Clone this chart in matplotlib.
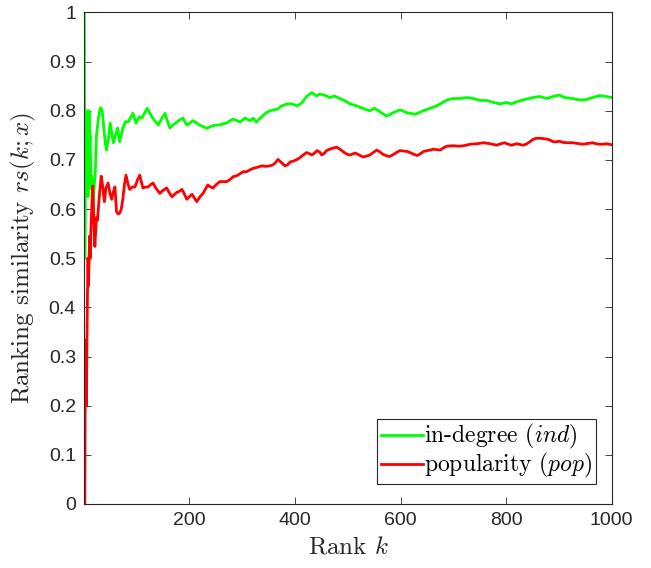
import numpy as np
import matplotlib
matplotlib.use("Agg")
import matplotlib.pyplot as plt

# Values
k_ind = [1, 2, 3, 4, 5, 6, 7, 8, 9, 10, 11, 12, 13, 14, 15, 16, 17, 18, 19, 20,
         22, 24, 26, 28, 30, 32, 35, 38, 41, 43, 47, 50, 53, 56, 60, 64, 68, 74,
         79, 84, 88, 93, 99, 105, 110, 115, 120, 125, 131, 136, 141, 148, 154,
         158, 163, 170, 176, 182, 188, 195, 201, 207, 213, 219, 226, 233, 240,
         246, 252, 258, 264, 271, 277, 283, 290, 296, 305, 315, 321, 327, 334,
         340, 347, 353, 360, 366, 375, 385, 394, 404, 413, 422, 432, 441, 447,
         456, 466, 475, 485, 494, 504, 517, 528, 542, 551, 561, 574, 584, 599,
         612, 628, 643, 656, 668, 675, 688, 700, 713, 726, 738, 751, 763, 776,
         788, 801, 810, 822, 835, 851, 864, 877, 889, 900, 911, 926, 939, 952,
         964, 977, 990, 1000]
rs_ind = [1.0, 0.5, 0.667, 0.75, 0.8, 0.667, 0.714, 0.625, 0.667, 0.8, 0.727,
          0.75, 0.692, 0.643, 0.667, 0.625, 0.588, 0.611, 0.632, 0.65, 0.682,
          0.75, 0.769, 0.786, 0.8, 0.806, 0.8, 0.763, 0.732, 0.72, 0.745, 0.775,
          0.755, 0.735, 0.75, 0.765, 0.737, 0.765, 0.778, 0.777, 0.785, 0.795,
          0.775, 0.788, 0.785, 0.795, 0.805, 0.795, 0.785, 0.778, 0.771, 0.785,
          0.795, 0.78, 0.765, 0.772, 0.777, 0.782, 0.785, 0.771, 0.775, 0.78,
          0.776, 0.771, 0.768, 0.764, 0.768, 0.77, 0.771, 0.771, 0.774, 0.775,
          0.78, 0.783, 0.78, 0.777, 0.785, 0.78, 0.785, 0.777, 0.785, 0.791,
          0.797, 0.80, 0.802, 0.803, 0.81, 0.814, 0.814, 0.81, 0.816, 0.829,
          0.837, 0.83, 0.834, 0.832, 0.827, 0.83, 0.825, 0.821, 0.814, 0.81,
          0.805, 0.80, 0.805, 0.798, 0.789, 0.795, 0.802, 0.796, 0.793, 0.80,
          0.805, 0.81, 0.814, 0.822, 0.825, 0.825, 0.827, 0.825, 0.821, 0.821,
          0.817, 0.814, 0.817, 0.814, 0.819, 0.823, 0.827, 0.829, 0.825, 0.829,
          0.832, 0.827, 0.825, 0.822, 0.823, 0.827, 0.831, 0.829, 0.827]

k_pop = [1, 2, 3, 4, 5, 6, 7, 8, 9, 10, 11, 12, 13, 14, 15, 16, 17, 18, 19, 20,
         21, 22, 24, 26, 28, 30, 33, 36, 39, 42, 46, 50, 53, 56, 59, 62, 65, 68,
         71, 74, 77, 80, 84, 87, 92, 97, 102, 106, 112, 117, 122, 127, 131, 137,
         144, 150, 157, 162, 167, 172, 176, 181, 186, 190, 195, 200, 205, 210,
         214, 220, 226, 230, 235, 240, 245, 251, 258, 264, 271, 277, 283, 290,
         296, 302, 308, 315, 321, 329, 337, 345, 353, 358, 362, 368, 374, 381,
         386, 391, 398, 404, 410, 413, 418, 422, 427, 432, 437, 442, 447, 451,
         456, 460, 466, 472, 479, 485, 491, 498, 504, 509, 514, 520, 529, 536,
         542, 548, 555, 560, 566, 572, 579, 585, 592, 599, 607, 614, 622, 631,
         637, 643, 650, 656, 662, 668, 675, 682, 688, 700, 710, 720, 732, 745,
         757, 770, 782, 790, 797, 804, 810, 820, 832, 838, 845, 850, 856, 862,
         867, 873, 879, 884, 889, 895, 901, 907, 914, 920, 926, 932, 939, 945,
         952, 958, 964, 970, 977, 984, 990, 995, 1000]
rs_pop = [0.0, 0.0, 0.333, 0.25, 0.2, 0.333, 0.429, 0.5, 0.444, 0.5, 0.545,
          0.5, 0.538, 0.571, 0.6, 0.625, 0.647, 0.611, 0.579, 0.55, 0.524,
          0.545, 0.583, 0.577, 0.607, 0.633, 0.667, 0.645, 0.615, 0.643, 0.653,
          0.63, 0.62, 0.635, 0.645, 0.595, 0.59, 0.592, 0.60, 0.62, 0.65,
          0.669, 0.65, 0.64, 0.645, 0.645, 0.66, 0.669, 0.643, 0.645, 0.645,
          0.65, 0.653, 0.642, 0.632, 0.638, 0.643, 0.633, 0.625, 0.63, 0.634,
          0.636, 0.64, 0.632, 0.62, 0.625, 0.63, 0.622, 0.615, 0.625, 0.632,
          0.64, 0.649, 0.645, 0.643, 0.65, 0.656, 0.656, 0.656, 0.66, 0.666,
          0.668, 0.672, 0.676, 0.676, 0.68, 0.683, 0.685, 0.688, 0.687, 0.688,
          0.69, 0.693, 0.701, 0.695, 0.688, 0.69, 0.696, 0.698, 0.701, 0.705,
          0.708, 0.712, 0.715, 0.713, 0.71, 0.714, 0.719, 0.716, 0.71, 0.714,
          0.719, 0.722, 0.724, 0.726, 0.722, 0.717, 0.712, 0.71, 0.712, 0.714,
          0.711, 0.706, 0.708, 0.71, 0.715, 0.72, 0.717, 0.712, 0.709, 0.707,
          0.71, 0.715, 0.719, 0.718, 0.717, 0.713, 0.709, 0.712, 0.717, 0.719,
          0.72, 0.722, 0.721, 0.72, 0.725, 0.728, 0.729, 0.728, 0.729, 0.732,
          0.733, 0.735, 0.733, 0.73, 0.733, 0.735, 0.732, 0.73, 0.733, 0.73,
          0.732, 0.737, 0.741, 0.744, 0.744, 0.744, 0.743, 0.742, 0.74, 0.737,
          0.737, 0.738, 0.736, 0.735, 0.735, 0.735, 0.734, 0.733, 0.732, 0.733,
          0.734, 0.735, 0.733, 0.732, 0.732, 0.733, 0.732, 0.731]

x_ticks = [200, 400, 600, 800, 1000]
y_ticks = [0, 0.1, 0.2, 0.3, 0.4, 0.5, 0.6, 0.7, 0.8, 0.9, 1]
labels = [r"in-degree ($ind$)", r"popularity ($pop$)"]

plt.rcParams["mathtext.fontset"] = "cm"
plt.rcParams["axes.unicode_minus"] = False
axis_grey = "#262626"

fig = plt.figure(figsize=(6.51, 5.68), dpi=100)
ax = fig.add_axes([0.1295, 0.1127, 0.8101, 0.8653])

ax.plot(k_ind, rs_ind, color=(0, 1, 0), lw=2, label=labels[0])
ax.plot(k_pop, rs_pop, color=(1, 0, 0), lw=2, label=labels[1])

ax.set_xlim(1, 1000)
ax.set_ylim(0, 1)
ax.set_xticks(x_ticks)
ax.set_xticklabels([str(t) for t in x_ticks])
ax.set_yticks(y_ticks)
ax.set_yticklabels([f"{t:g}" for t in y_ticks])
ax.tick_params(direction="in", length=5, width=0.6, top=True, right=True,
               labelsize=14, colors=axis_grey, pad=6)
for lbl in ax.get_xticklabels() + ax.get_yticklabels():
    lbl.set_fontfamily("Liberation Sans")
for sp in ax.spines.values():
    sp.set_color(axis_grey)
    sp.set_linewidth(0.8)

ax.set_xlabel(r"Rank $k$", fontfamily="cmr10", fontsize=18, color=axis_grey,
              labelpad=5)
ax.set_ylabel(r"Ranking similarity $rs(k;x)$", fontfamily="cmr10", fontsize=18,
              color=axis_grey, labelpad=8)

leg = ax.legend(loc="lower right", bbox_to_anchor=(0.970, 0.041),
                borderaxespad=0, fancybox=False, framealpha=1,
                edgecolor=axis_grey, prop={"family": "cmr10", "size": 17},
                handlelength=1.8, handletextpad=0.05, borderpad=0.15,
                labelspacing=0.0, handleheight=0.6)
leg.get_frame().set_linewidth(0.8)

fig.savefig("out.png", dpi=100)
